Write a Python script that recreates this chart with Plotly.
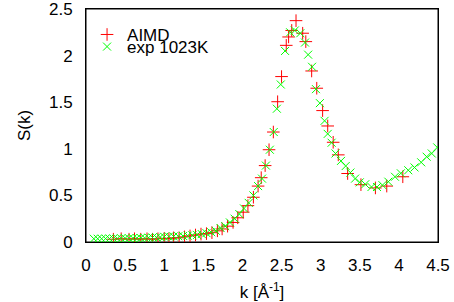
import plotly.graph_objects as go

# AIMD S(k)
aimd_k = [0.35, 0.45, 0.55, 0.62, 0.70, 0.78, 0.85, 0.92, 1.00, 1.06, 1.12, 1.19,
          1.26, 1.33, 1.40, 1.47, 1.54, 1.61, 1.68, 1.74, 1.81, 1.88, 1.94, 2.01,
          2.07, 2.14, 2.20, 2.24, 2.29, 2.34, 2.395, 2.45, 2.50, 2.56, 2.59, 2.63,
          2.685, 2.77, 2.81, 2.885, 2.95, 3.025, 3.09, 3.16, 3.225, 3.345, 3.515,
          3.70, 3.845, 4.05]
aimd_s = [0.03, 0.035, 0.03, 0.035, 0.03, 0.035, 0.03, 0.035, 0.04, 0.035, 0.045, 0.045,
          0.055, 0.065, 0.075, 0.085, 0.09, 0.10, 0.12, 0.14, 0.17, 0.21, 0.26, 0.32,
          0.39, 0.48, 0.60, 0.69, 0.82, 0.99, 1.18, 1.505, 1.775, 2.11, 2.20, 2.27,
          2.375, 2.24, 2.15, 1.835, 1.65, 1.41, 1.245, 1.07, 0.935, 0.735, 0.615,
          0.58, 0.60, 0.70]

# experiment 1023 K
exp_k = [0.10, 0.15, 0.20, 0.25, 0.30, 0.35, 0.40, 0.45, 0.50, 0.55, 0.60, 0.65,
         0.70, 0.75, 0.80, 0.85, 0.90, 0.95, 1.00, 1.06, 1.12, 1.18, 1.24, 1.30,
         1.36, 1.42, 1.48, 1.54, 1.60, 1.66, 1.72, 1.78, 1.84, 1.90, 1.96, 2.02,
         2.08, 2.14, 2.20, 2.25, 2.30, 2.35, 2.40, 2.44, 2.49, 2.545, 2.61, 2.67,
         2.74, 2.80, 2.84, 2.89, 2.94, 2.99, 3.05, 3.09, 3.14, 3.19, 3.26, 3.32,
         3.38, 3.44, 3.50, 3.57, 3.65, 3.72, 3.79, 3.865, 3.95, 4.025, 4.12, 4.20,
         4.285, 4.355, 4.42, 4.49]
exp_s = [0.035, 0.035, 0.035, 0.036, 0.037, 0.038, 0.038, 0.039, 0.040, 0.040, 0.041, 0.042,
         0.043, 0.044, 0.046, 0.048, 0.050, 0.053, 0.056, 0.058, 0.060, 0.062, 0.065, 0.068,
         0.072, 0.076, 0.085, 0.095, 0.105, 0.12, 0.15, 0.17, 0.21, 0.25, 0.30, 0.36,
         0.42, 0.50, 0.60, 0.68, 0.82, 0.99, 1.18, 1.43, 1.69, 2.05, 2.25, 2.27,
         2.24, 2.14, 2.01, 1.88, 1.64, 1.49, 1.30, 1.16, 1.065, 0.95, 0.87, 0.815,
         0.745, 0.68, 0.64, 0.62, 0.59, 0.59, 0.61, 0.647, 0.70, 0.737, 0.77, 0.80,
         0.855, 0.915, 0.95, 1.015]

x_ticks = [0, 0.5, 1, 1.5, 2, 2.5, 3, 3.5, 4, 4.5]
x_tick_text = ["0", "0.5", "1", "1.5", "2", "2.5", "3", "3.5", "4", "4.5"]
y_ticks = [0, 0.5, 1, 1.5, 2, 2.5]
y_tick_text = ["0", "0.5", "1", "1.5", "2", "2.5"]
x_range = [0, 4.5]
y_range = [0, 2.5]

FONT = "Liberation Sans, Arial, sans-serif"

fig = go.Figure()
# plot frame, built from the axis ranges
fig.add_trace(go.Scatter(
    x=[x_range[0], x_range[1], x_range[1], x_range[0], x_range[0]],
    y=[y_range[0], y_range[0], y_range[1], y_range[1], y_range[0]],
    mode="lines", line=dict(color="#000000", width=1), showlegend=False,
    hoverinfo="skip", cliponaxis=False,
))
fig.add_trace(go.Scatter(
    x=aimd_k, y=aimd_s, mode="markers", name="AIMD", legend="legend",
    marker=dict(symbol="cross-thin", size=9, line=dict(color="#ff0000", width=1), color="#ff0000"),
))
fig.add_trace(go.Scatter(
    x=exp_k, y=exp_s, mode="markers", name="exp 1023K", legend="legend2",
    marker=dict(symbol="x-thin", size=8, line=dict(color="#00ff00", width=1), color="#00ff00"),
))

main_axis = dict(
    showline=True, linecolor="#000000", linewidth=1, mirror=True,
    ticks="outside", tickwidth=1, tickcolor="rgba(0,0,0,0)",
    showgrid=False, zeroline=False, automargin=False, fixedrange=True,
    ticklabeloverflow="allow",
    tickfont=dict(family=FONT, size=17, color="black"),
)
tick_axis = dict(
    showline=False, mirror="ticks", ticks="inside", ticklen=7, tickwidth=1,
    tickcolor="#000000", showticklabels=False, showgrid=False, zeroline=False,
    automargin=False, fixedrange=True,
)

legend_common = dict(xanchor="left", yanchor="top", bgcolor="rgba(0,0,0,0)",
                     borderwidth=0, font=dict(family=FONT, size=17, color="black"))

fig.update_layout(
    width=454, height=302, autosize=False,
    margin=dict(l=86, r=16, t=9, b=60, pad=0),
    paper_bgcolor="white", plot_bgcolor="white",
    font=dict(family=FONT, size=17, color="black"),
    showlegend=True,
    legend=dict(x=0.003, y=0.966, **legend_common),
    legend2=dict(x=0.003, y=0.914, **legend_common),
    xaxis=dict(range=x_range, tickvals=x_ticks, ticktext=x_tick_text, ticklen=8,
               title=dict(text="k [Å<sup>-1</sup>]", standoff=12,
                          font=dict(family=FONT, size=17)),
               **main_axis),
    yaxis=dict(range=y_range, tickvals=y_ticks, ticktext=y_tick_text, ticklen=9,
               title=dict(text="S(k)", standoff=14,
                          font=dict(family=FONT, size=17)),
               **main_axis),
    xaxis2=dict(range=x_range, tickvals=x_ticks, overlaying="x", anchor="y",
                side="bottom", **tick_axis),
    yaxis2=dict(range=y_range, tickvals=y_ticks, overlaying="y", anchor="x",
                side="left", **tick_axis),
)

fig.write_html("out.html", config={"displayModeBar": False},
               post_script="document.body.style.margin='0px';")
